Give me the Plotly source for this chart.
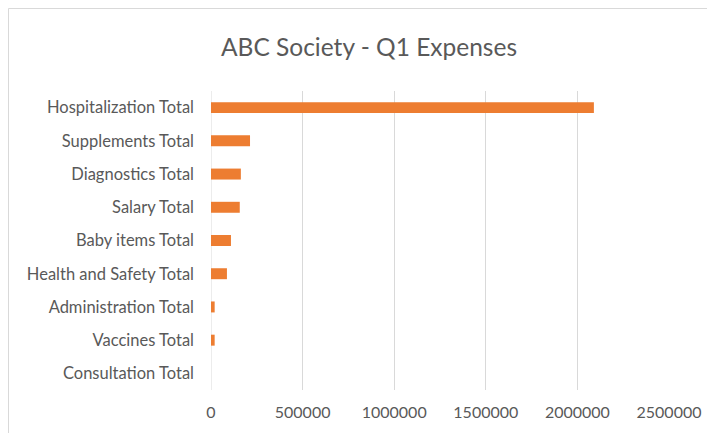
import plotly.graph_objects as go

categories = ["Hospitalization Total", "Supplements Total", "Diagnostics Total",
              "Salary Total", "Baby items Total", "Health and Safety Total",
              "Administration Total", "Vaccines Total", "Consultation Total"]
values = [2090000, 213000, 163000, 157000, 109000, 87000, 20000, 20000, 0]
tick_vals = [0, 500000, 1000000, 1500000, 2000000, 2500000]
tick_text = ["0", "500000", "1000000", "1500000", "2000000", "2500000"]

# page has an 8px body margin; figure coordinates = page coordinates - 8
OFF = 8
W, H = 715 - OFF, 433 - OFF
L, R, T, B = 211 - OFF, 46, 91 - OFF, 43
pw, ph = W - L - R, H - T - B

def px_x(p):
    return (p - OFF - L) / pw

def px_y(p):
    return (H - B - (p - OFF)) / ph

fig = go.Figure(go.Bar(
    y=categories, x=values, orientation="h",
    marker=dict(color="#ED7D31", line=dict(width=0)),
))

fig.update_layout(
    width=W, height=H,
    margin=dict(l=L, r=R, t=T, b=B),
    paper_bgcolor="white", plot_bgcolor="white",
    bargap=0.67,
    showlegend=False,
    font=dict(family="Lato", color="#595959", size=14),
    title=dict(text="ABC Society - Q1 Expenses", x=(369 - OFF) / W, xanchor="center",
               y=1 - (47 - OFF) / H, yanchor="middle", yref="container",
               font=dict(family="Lato", size=24.5, color="#595959")),
    xaxis=dict(range=[0, 2500000], tickvals=tick_vals, ticktext=tick_text,
               showgrid=True, gridcolor="#d9d9d9", gridwidth=1,
               zeroline=False, showline=False, ticks="",
               ticklabelstandoff=11, tickfont=dict(size=16, color="#595959")),
    yaxis=dict(categoryorder="array", categoryarray=categories[::-1],
               showgrid=False, zeroline=False, showline=False, ticks="",
               ticklabelstandoff=16, tickfont=dict(size=16.5, color="#595959")),
    shapes=[
        dict(type="rect", xref="paper", yref="paper",
             x0=px_x(8.5), x1=px_x(760), y0=px_y(480), y1=px_y(8.5),
             line=dict(color="#d9d9d9", width=1), fillcolor="rgba(0,0,0,0)",
             layer="below"),
        dict(type="line", xref="x", yref="paper", x0=0, x1=0, y0=0, y1=1,
             line=dict(color="#d9d9d9", width=1), layer="below"),
    ],
)

fig.write_html("out.html")
